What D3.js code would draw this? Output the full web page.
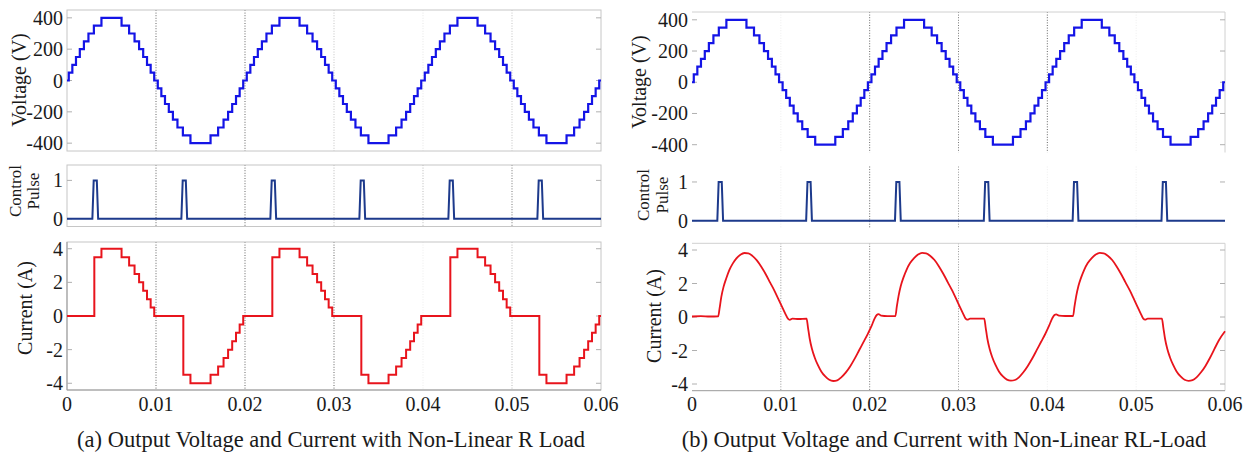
<!DOCTYPE html>
<html>
<head>
<meta charset="utf-8">
<script src="https://cdn.jsdelivr.net/npm/d3@7"></script>
<style>
  body { margin: 0; background: #fff; }
  text { font-family: "Liberation Serif", "Times New Roman", serif; fill: #1a1a1a; }
</style>
</head>
<body>
<svg id="chart" width="1253" height="455"></svg>
<script>
// ---- data (times in ms) ----
const timeTicks = [0, 0.01, 0.02, 0.03, 0.04, 0.05, 0.06];
const voltageTicks = [400, 200, 0, -200, -400];
const pulseTicks = [1, 0];
const currentTicks = [4, 2, 0, -2, -4];

// staircase output voltage: switching instants and the level held after each
const vSwitchMs = [
  0.20, 0.60, 1.01, 1.44, 1.90, 2.41, 3.02, 3.87, 6.13, 6.98, 7.59, 8.10, 8.56, 8.99, 9.40, 9.80,
  10.20, 10.60, 11.01, 11.44, 11.90, 12.41, 13.02, 13.87, 16.13, 16.98, 17.59, 18.10, 18.56, 18.99, 19.40, 19.80,
  20.20, 20.60, 21.01, 21.44, 21.90, 22.41, 23.02, 23.87, 26.13, 26.98, 27.59, 28.10, 28.56, 28.99, 29.40, 29.80,
  30.20, 30.60, 31.01, 31.44, 31.90, 32.41, 33.02, 33.87, 36.13, 36.98, 37.59, 38.10, 38.56, 38.99, 39.40, 39.80,
  40.20, 40.60, 41.01, 41.44, 41.90, 42.41, 43.02, 43.87, 46.13, 46.98, 47.59, 48.10, 48.56, 48.99, 49.40, 49.80,
  50.20, 50.60, 51.01, 51.44, 51.90, 52.41, 53.02, 53.87, 56.13, 56.98, 57.59, 58.10, 58.56, 58.99, 59.40, 59.80
];
const vLevels = [0,
  50, 100, 150, 200, 250, 300, 350, 400, 350, 300, 250, 200, 150, 100, 50, 0,
  -50, -100, -150, -200, -250, -300, -350, -400, -350, -300, -250, -200, -150, -100, -50, 0,
  50, 100, 150, 200, 250, 300, 350, 400, 350, 300, 250, 200, 150, 100, 50, 0,
  -50, -100, -150, -200, -250, -300, -350, -400, -350, -300, -250, -200, -150, -100, -50, 0,
  50, 100, 150, 200, 250, 300, 350, 400, 350, 300, 250, 200, 150, 100, 50, 0,
  -50, -100, -150, -200, -250, -300, -350, -400, -350, -300, -250, -200, -150, -100, -50, 0
];

// thyristor firing pulses
const pulseOnMs = [2.85, 12.85, 22.85, 32.85, 42.85, 52.85];
const pulseOffMs = [3.5, 13.5, 23.5, 33.5, 43.5, 53.5];

// (a) R load current: switching instants and levels
const rSwitchMs = [
  3.07, 3.87, 6.13, 6.98, 7.59, 8.10, 8.56, 8.99, 9.40, 9.80,
  13.07, 13.87, 16.13, 16.98, 17.59, 18.10, 18.56, 18.99, 19.40, 19.80,
  23.07, 23.87, 26.13, 26.98, 27.59, 28.10, 28.56, 28.99, 29.40, 29.80,
  33.07, 33.87, 36.13, 36.98, 37.59, 38.10, 38.56, 38.99, 39.40, 39.80,
  43.07, 43.87, 46.13, 46.98, 47.59, 48.10, 48.56, 48.99, 49.40, 49.80,
  53.07, 53.87, 56.13, 56.98, 57.59, 58.10, 58.56, 58.99, 59.40, 59.80
];
const rLevels = [0,
  3.5, 4, 3.5, 3, 2.5, 2, 1.5, 1, 0.5, 0,
  -3.5, -4, -3.5, -3, -2.5, -2, -1.5, -1, -0.5, 0,
  3.5, 4, 3.5, 3, 2.5, 2, 1.5, 1, 0.5, 0,
  -3.5, -4, -3.5, -3, -2.5, -2, -1.5, -1, -0.5, 0,
  3.5, 4, 3.5, 3, 2.5, 2, 1.5, 1, 0.5, 0,
  -3.5, -4, -3.5, -3, -2.5, -2, -1.5, -1, -0.5, 0
];

// (b) RL load current [ms, A]
const rlCurrent = [
  [0, 0.03], [1.0, 0.05], [2.0, 0.03], [2.95, 0.04],
  [3.1, 0.5], [3.3, 1.2], [3.55, 1.8], [3.85, 2.3], [4.2, 2.8], [4.6, 3.2], [5.0, 3.5], [5.45, 3.72],
  [5.9, 3.82], [6.35, 3.8], [6.8, 3.65], [7.3, 3.38], [7.8, 3.0], [8.3, 2.55], [8.8, 2.05], [9.3, 1.55],
  [9.7, 1.1], [10.1, 0.65], [10.5, 0.2], [10.8, -0.1], [11.0, -0.17], [11.3, -0.1], [12.0, -0.12], [12.9, -0.1],
  [13.05, -0.6], [13.25, -1.3], [13.5, -1.9], [13.8, -2.4], [14.15, -2.85], [14.55, -3.25], [15.0, -3.55], [15.45, -3.75],
  [15.9, -3.82], [16.35, -3.78], [16.8, -3.6], [17.3, -3.32], [17.8, -2.95], [18.3, -2.5], [18.8, -2.0], [19.3, -1.5],
  [19.75, -1.05], [20.2, -0.55], [20.55, -0.1], [20.8, 0.12], [21.0, 0.17], [21.3, 0.08], [22.0, 0.05], [22.9, 0.06],
  [23.05, 0.6], [23.25, 1.25], [23.5, 1.85], [23.8, 2.35], [24.15, 2.82], [24.55, 3.22], [25.0, 3.52], [25.45, 3.73],
  [25.9, 3.83], [26.35, 3.8], [26.8, 3.66], [27.3, 3.4], [27.8, 3.02], [28.3, 2.57], [28.8, 2.07], [29.3, 1.57],
  [29.7, 1.12], [30.1, 0.66], [30.5, 0.22], [30.8, -0.1], [31.0, -0.16], [31.3, -0.1], [32.0, -0.1], [32.9, -0.1],
  [33.05, -0.6], [33.25, -1.3], [33.5, -1.9], [33.8, -2.4], [34.15, -2.85], [34.55, -3.25], [35.0, -3.55], [35.45, -3.74],
  [35.9, -3.8], [36.35, -3.76], [36.8, -3.6], [37.3, -3.3], [37.8, -2.92], [38.3, -2.48], [38.8, -1.98], [39.3, -1.48],
  [39.75, -1.03], [40.2, -0.52], [40.55, -0.08], [40.8, 0.12], [41.0, 0.16], [41.3, 0.08], [42.0, 0.06], [42.9, 0.06],
  [43.05, 0.6], [43.25, 1.25], [43.5, 1.85], [43.8, 2.35], [44.15, 2.82], [44.55, 3.22], [45.0, 3.52], [45.45, 3.73],
  [45.9, 3.83], [46.35, 3.8], [46.8, 3.66], [47.3, 3.4], [47.8, 3.02], [48.3, 2.57], [48.8, 2.07], [49.3, 1.57],
  [49.7, 1.12], [50.1, 0.66], [50.5, 0.22], [50.8, -0.1], [51.0, -0.16], [51.3, -0.1], [52.0, -0.1], [52.9, -0.1],
  [53.05, -0.6], [53.25, -1.3], [53.5, -1.9], [53.8, -2.4], [54.15, -2.85], [54.55, -3.25], [55.0, -3.55], [55.45, -3.75],
  [55.9, -3.81], [56.35, -3.77], [56.8, -3.6], [57.3, -3.3], [57.8, -2.92], [58.3, -2.45], [58.8, -1.92], [59.3, -1.4],
  [60, -0.85]
];

const captions = [
  '(a) Output Voltage and Current with Non-Linear R Load',
  '(b) Output Voltage and Current with Non-Linear RL-Load'
];

// ---- layout ----
const colours = { voltage: '#1414e6', pulse: '#1d3a8c', current: '#e8141c' };
const endMs = 60;

const layouts = [
  {
    x: [67, 601], v: [151, 10], p: [226.5, 165], i: [390, 242], box: true,
    titles: { v: [25.5, 80], c: [21, 191], pl: [39, 191], i: [31.5, 308] },
    grid: { v: [0.9, 0.9, 0.35, 0.15, 0.35], p: [0.9, 0.9, 0.4, 0.4, 0.8], i: [0.9, 0.9, 0.9, 0.1, 0.4] },
    caption: 331
  },
  {
    x: [692, 1225], v: [152.5, 12], p: [228.4, 166.5], i: [390.7, 243.3], box: false,
    titles: { v: [646, 82], c: [649, 195], pl: [668, 195], i: [661, 316] },
    grid: { v: [0.1, 0.9, 0.8, 0.9, 0.1], p: [0.1, 0.9, 0.6, 0.1, 0.1], i: [0.6, 0.8, 0.6, 0.1, 0.1] },
    caption: 944
  }
];

const svg = d3.select('#chart');

const stepSeries = (times, levels) => {
  const pts = [[0, levels[0]]];
  times.forEach((t, k) => pts.push([t, levels[k + 1]]));
  pts.push([endMs, levels[levels.length - 1]]);
  return pts;
};

const pulseSeries = () => {
  const ramp = 0.15;
  const pts = [[0, 0]];
  pulseOnMs.forEach((on, k) => {
    pts.push([on, 0], [on + ramp, 1], [pulseOffMs[k] - ramp, 1], [pulseOffMs[k], 0]);
  });
  pts.push([endMs, 0]);
  return pts;
};

const voltagePts = stepSeries(vSwitchMs, vLevels);
const rCurrentPts = stepSeries(rSwitchMs, rLevels);
const pulsePts = pulseSeries();

const drawChart = (L, idx) => {
  const g = svg.append('g');
  const x = d3.scaleLinear().domain([0, 0.06]).range(L.x);
  const yV = d3.scaleLinear().domain([-450, 450]).range(L.v);
  const yP = d3.scaleLinear().domain([-0.2, 1.4]).range(L.p);
  const yI = d3.scaleLinear().domain([-4.4, 4.4]).range(L.i);

  const panels = [
    { key: 'v', y: yV, ticks: voltageTicks, range: L.v },
    { key: 'p', y: yP, ticks: pulseTicks, range: L.p },
    { key: 'i', y: yI, ticks: currentTicks, range: L.i }
  ];

  panels.forEach(P => {
    const [bot, top] = P.range;

    // dotted vertical grid at 0.01..0.05
    g.append('g').selectAll('line')
      .data(timeTicks.slice(1, -1))
      .enter().append('line')
        .attr('x1', d => x(d)).attr('x2', d => x(d))
        .attr('y1', top).attr('y2', bot)
        .attr('stroke', '#555')
        .attr('stroke-dasharray', '1,1.6')
        .attr('stroke-opacity', (d, k) => L.grid[P.key][k]);

    // frame
    const fr = g.append('g').attr('fill', 'none');
    if (L.box) {
      fr.append('rect')
        .attr('x', L.x[0]).attr('y', top)
        .attr('width', L.x[1] - L.x[0]).attr('height', bot - top)
        .attr('stroke', '#c6c6c6');
      if (P.key === 'i') {
        fr.append('path').attr('d', `M${L.x[0]},${top}V${bot}H${L.x[1]}`).attr('stroke', '#999');
      }
    } else if (P.key !== 'p') {
      fr.append('path').attr('d', `M${L.x[0]},${top}H${L.x[1]}V${bot}`).attr('stroke', '#d0d0d0');
      if (P.key === 'i') {
        fr.append('path').attr('d', `M${L.x[0]},${bot}H${L.x[1]}`).attr('stroke', '#999');
      }
    }

    // inward tick marks on both sides
    const tk = g.append('g').attr('stroke', '#b0b0b0');
    P.ticks.forEach(t => {
      tk.append('line').attr('x1', L.x[0]).attr('x2', L.x[0] + 5)
        .attr('y1', P.y(t)).attr('y2', P.y(t));
      tk.append('line').attr('x1', L.x[1] - 5).attr('x2', L.x[1])
        .attr('y1', P.y(t)).attr('y2', P.y(t));
    });

    // y tick labels
    g.append('g').selectAll('text')
      .data(P.ticks)
      .enter().append('text')
        .attr('x', L.x[0] - 4)
        .attr('y', d => P.y(d))
        .attr('dy', '0.35em')
        .attr('text-anchor', 'end')
        .attr('font-size', 20)
        .text(d => String(d));
  });

  // x tick labels under the current panel
  g.append('g').selectAll('text')
    .data(timeTicks)
    .enter().append('text')
      .attr('x', d => x(d))
      .attr('y', 411)
      .attr('text-anchor', 'middle')
      .attr('font-size', 20)
      .text(d => String(d));

  // axis titles
  const title = (pos, txt, size) => g.append('text')
    .attr('transform', `translate(${pos[0]},${pos[1]}) rotate(-90)`)
    .attr('text-anchor', 'middle')
    .attr('font-size', size)
    .text(txt);
  title(L.titles.v, 'Voltage (V)', 20);
  title(L.titles.c, 'Control', 17);
  title(L.titles.pl, 'Pulse', 17);
  title(L.titles.i, 'Current (A)', 20);

  // traces
  const lineV = d3.line().x(d => x(d[0] / 1000)).y(d => yV(d[1])).curve(d3.curveStepAfter);
  const lineP = d3.line().x(d => x(d[0] / 1000)).y(d => yP(d[1]));
  g.append('path').datum(voltagePts)
    .attr('d', lineV).attr('fill', 'none')
    .attr('stroke', colours.voltage).attr('stroke-width', 2.2);
  g.append('path').datum(pulsePts)
    .attr('d', lineP).attr('fill', 'none')
    .attr('stroke', colours.pulse).attr('stroke-width', 2);

  const lineI = idx === 0
    ? d3.line().x(d => x(d[0] / 1000)).y(d => yI(d[1])).curve(d3.curveStepAfter)
    : d3.line().x(d => x(d[0] / 1000)).y(d => yI(d[1])).curve(d3.curveMonotoneX);
  g.append('path').datum(idx === 0 ? rCurrentPts : rlCurrent)
    .attr('d', lineI).attr('fill', 'none')
    .attr('stroke', colours.current).attr('stroke-width', idx === 0 ? 2 : 1.8);

  // caption
  g.append('text')
    .attr('x', L.caption).attr('y', 447)
    .attr('text-anchor', 'middle')
    .attr('font-size', 22.5)
    .text(captions[idx]);
};

layouts.forEach((L, idx) => drawChart(L, idx));
</script>
</body>
</html>
